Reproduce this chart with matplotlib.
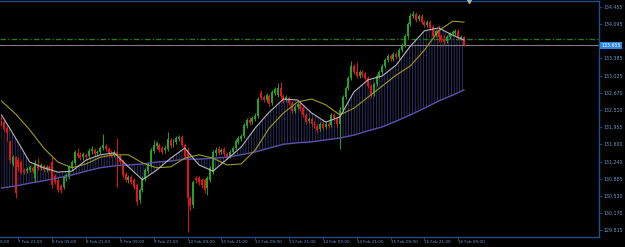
import numpy as np
import matplotlib
matplotlib.use("Agg")
from matplotlib import pyplot as plt
from matplotlib.transforms import blended_transform_factory

plt.rcParams['font.family'] = ['Liberation Sans Narrow', 'DejaVu Sans']

# hourly candles (7 Feb 09:00 -> 16 Feb 10:00)
opens = [
  132.15, 132.06, 131.94, 131.65, 131.19, 131.33, 131.27, 131.23, 131.06, 131.04,
  131.06, 131.11, 130.90, 131.19, 131.11, 131.15, 131.06, 131.13, 131.23, 130.94,
  130.86, 130.73, 130.71, 130.90, 130.92, 131.11, 131.21, 131.42, 131.38, 131.33,
  131.38, 131.36, 131.46, 131.48, 131.42, 131.44, 131.52, 131.56, 131.50, 131.42,
  131.38, 131.44, 131.36, 131.23, 130.98, 130.86, 130.92, 130.86, 130.75, 130.44,
  130.65, 130.88, 131.04, 131.17, 131.46, 131.56, 131.58, 131.52, 131.48, 131.50,
  131.69, 131.58, 131.65, 131.71, 131.75, 131.58, 131.48, 130.48, 130.34, 130.90,
  130.90, 130.86, 130.86, 130.69, 130.86, 131.02, 131.42, 131.50, 131.44, 131.50,
  131.40, 131.36, 131.44, 131.52, 131.65, 131.71, 131.77, 131.98, 132.10, 132.06,
  132.12, 132.19, 132.67, 132.58, 132.52, 132.60, 132.46, 132.67, 132.62, 132.77,
  132.60, 132.52, 132.56, 132.46, 132.29, 132.37, 132.44, 132.35, 132.21, 132.08,
  132.12, 132.04, 131.98, 131.92, 132.02, 131.96, 132.02, 132.00, 132.21, 132.15,
  132.02, 132.31, 132.58, 132.77, 132.98, 133.23, 133.10, 133.02, 133.10, 133.06,
  132.98, 132.81, 132.64, 132.85, 133.02, 133.10, 133.23, 133.35, 133.44, 133.37,
  133.48, 133.41, 133.56, 133.66, 133.85, 134.10, 134.27, 134.31, 134.20, 134.27,
  134.14, 134.08, 134.14, 134.04, 133.87, 133.98, 133.85, 133.79, 133.75, 133.83,
  133.89, 133.91, 133.96, 133.81, 133.83]
closes = [
  132.04, 131.92, 131.83, 131.27, 131.33, 130.59, 131.13, 131.02, 131.02, 131.08,
  131.13, 131.04, 131.21, 131.11, 131.17, 131.06, 131.13, 131.08, 130.75, 130.81,
  130.65, 130.65, 130.92, 130.96, 131.13, 131.23, 131.44, 131.36, 131.31, 131.40,
  131.33, 131.46, 131.50, 131.40, 131.44, 131.52, 131.58, 131.50, 131.42, 131.38,
  131.44, 131.36, 131.23, 130.96, 130.86, 130.92, 130.81, 130.71, 130.40, 130.65,
  130.90, 131.06, 131.17, 131.48, 131.58, 131.63, 131.48, 131.44, 131.52, 131.71,
  131.56, 131.67, 131.73, 131.75, 131.58, 131.36, 130.48, 130.32, 130.81, 130.86,
  130.81, 130.75, 130.65, 130.90, 131.11, 131.44, 131.48, 131.42, 131.48, 131.40,
  131.33, 131.44, 131.52, 131.67, 131.73, 131.77, 132.00, 132.10, 132.04, 132.15,
  132.19, 132.54, 132.56, 132.52, 132.62, 132.44, 132.69, 132.75, 132.77, 132.60,
  132.50, 132.58, 132.46, 132.29, 132.37, 132.44, 132.33, 132.21, 132.06, 132.12,
  132.02, 131.98, 131.90, 132.02, 131.94, 132.02, 131.98, 132.21, 132.15, 132.02,
  132.31, 132.58, 132.77, 132.98, 133.23, 133.10, 133.02, 133.10, 133.04, 132.98,
  132.81, 132.64, 132.85, 133.02, 133.10, 133.23, 133.35, 133.44, 133.37, 133.48,
  133.41, 133.56, 133.66, 133.85, 134.10, 134.27, 134.31, 134.18, 134.27, 134.14,
  134.08, 134.14, 134.02, 133.85, 133.96, 133.83, 133.77, 133.73, 133.83, 133.89,
  133.93, 133.96, 133.81, 133.83, 133.66]
highs = [
  132.19, 132.12, 131.98, 131.69, 131.38, 131.36, 131.33, 131.27, 131.11, 131.13,
  131.17, 131.15, 131.27, 131.31, 131.21, 131.19, 131.17, 131.17, 131.33, 130.98,
  130.92, 130.77, 130.96, 131.00, 131.17, 131.27, 131.48, 131.52, 131.44, 131.44,
  131.42, 131.52, 131.56, 131.52, 131.48, 131.56, 131.81, 131.60, 131.54, 131.48,
  131.48, 131.73, 131.40, 131.27, 131.02, 130.96, 130.96, 130.90, 130.79, 130.69,
  130.94, 131.11, 131.21, 131.52, 131.69, 131.67, 131.63, 131.56, 131.56, 131.85,
  131.73, 131.71, 131.77, 131.79, 131.79, 131.63, 131.54, 130.52, 130.86, 130.94,
  130.94, 130.90, 130.90, 130.94, 131.15, 131.48, 131.54, 131.56, 131.52, 131.54,
  131.44, 131.48, 131.56, 131.71, 131.77, 131.81, 132.04, 132.15, 132.17, 132.19,
  132.25, 132.58, 132.73, 132.62, 132.67, 132.64, 132.73, 132.79, 132.87, 132.89,
  132.64, 132.62, 132.60, 132.50, 132.42, 132.48, 132.48, 132.40, 132.25, 132.17,
  132.17, 132.08, 132.02, 132.06, 132.06, 132.06, 132.06, 132.25, 132.25, 132.19,
  132.37, 132.62, 132.81, 133.02, 133.33, 133.27, 133.31, 133.14, 133.14, 133.10,
  133.02, 132.85, 132.89, 133.06, 133.14, 133.27, 133.39, 133.48, 133.48, 133.52,
  133.52, 133.60, 133.71, 133.89, 134.14, 134.33, 134.37, 134.35, 134.31, 134.31,
  134.18, 134.18, 134.18, 134.08, 134.00, 134.08, 133.89, 133.87, 133.87, 133.93,
  133.98, 134.00, 134.00, 133.87, 133.85]
lows = [
  131.98, 131.88, 131.67, 131.21, 131.15, 130.48, 131.06, 130.98, 130.98, 131.00,
  131.02, 131.00, 130.81, 131.06, 131.06, 131.02, 131.02, 131.04, 130.69, 130.77,
  130.61, 130.59, 130.67, 130.84, 130.88, 131.06, 131.17, 131.31, 131.27, 131.27,
  131.29, 131.31, 131.40, 131.36, 131.36, 131.40, 131.48, 131.46, 131.38, 131.33,
  131.33, 130.71, 131.19, 130.90, 130.81, 130.79, 130.77, 130.67, 130.34, 130.38,
  130.61, 130.84, 131.00, 131.13, 131.42, 131.50, 131.44, 131.40, 131.42, 131.46,
  131.52, 131.54, 131.60, 131.67, 131.54, 131.31, 129.77, 130.23, 130.27, 130.79,
  130.75, 130.69, 130.59, 130.54, 130.81, 130.98, 131.36, 131.38, 131.40, 131.36,
  131.29, 131.31, 131.40, 131.48, 131.60, 131.67, 131.73, 131.94, 132.00, 132.02,
  132.08, 132.15, 132.52, 132.48, 132.48, 132.40, 132.42, 132.62, 132.58, 132.56,
  132.46, 132.48, 132.42, 132.25, 132.25, 132.33, 132.29, 132.17, 132.02, 132.04,
  131.98, 131.94, 131.85, 131.88, 131.90, 131.92, 131.94, 131.96, 132.10, 131.96,
  131.50, 132.27, 132.54, 132.73, 132.94, 133.06, 132.98, 132.98, 133.00, 132.94,
  132.77, 132.58, 132.60, 132.81, 132.98, 133.06, 133.19, 133.31, 133.33, 133.33,
  133.37, 133.37, 133.52, 133.62, 133.81, 134.06, 134.23, 134.14, 134.16, 134.10,
  134.04, 134.04, 133.98, 133.81, 133.83, 133.73, 133.73, 133.68, 133.71, 133.79,
  133.85, 133.87, 133.77, 133.77, 133.64]

# moving averages, read every 5th bar
ma_bars = [0, 5, 10, 15, 20, 25, 30, 35, 40, 45, 50, 55, 60, 65, 70, 75, 80,
           85, 90, 95, 100, 105, 110, 115, 120, 125, 130, 135, 140, 145, 150,
           155, 160, 164]
ma_fast = [132.21, 131.73, 131.23, 131.11, 131.02, 131.04, 131.27, 131.38,
           131.42, 131.13, 130.86, 131.06, 131.31, 131.52, 131.17, 131.04,
           131.29, 131.54, 131.94, 132.27, 132.54, 132.52, 132.25, 132.06,
           132.17, 132.69, 132.94, 133.02, 133.25, 133.64, 133.96, 134.02,
           133.87, 133.77]
ma_mid = [132.50, 132.23, 131.90, 131.52, 131.23, 131.11, 131.19, 131.33,
          131.38, 131.38, 131.21, 131.11, 131.13, 131.31, 131.38, 131.31,
          131.17, 131.19, 131.48, 131.94, 132.25, 132.48, 132.54, 132.42,
          132.21, 132.35, 132.58, 132.81, 133.04, 133.23, 133.56, 133.96,
          134.16, 134.14]
ma_slow = [130.69, 130.73, 130.79, 130.84, 130.90, 130.96, 131.04, 131.11,
           131.15, 131.17, 131.19, 131.23, 131.25, 131.29, 131.29, 131.31,
           131.33, 131.38, 131.44, 131.52, 131.60, 131.63, 131.65, 131.69,
           131.73, 131.79, 131.88, 131.96, 132.08, 132.21, 132.35, 132.50,
           132.62, 132.73]

time_bars = [-6, 6, 18, 30, 42, 54, 66, 78, 90, 102, 114, 126, 138, 150, 162]
time_labels = ["7 Feb 09:00", "7 Feb 21:00", "8 Feb 09:00", "8 Feb 21:00",
               "9 Feb 09:00", "9 Feb 21:00", "10 Feb 09:00", "10 Feb 21:00",
               "13 Feb 09:00", "13 Feb 21:00", "14 Feb 09:00", "14 Feb 21:00",
               "15 Feb 09:00", "15 Feb 21:00", "16 Feb 09:00"]
price_ticks = [134.455, 134.095, 133.385, 133.025, 132.670, 132.310, 131.955,
               131.600, 131.240, 130.885, 130.530, 130.170, 129.815]
bid = 133.655
level = 133.78

# colours
up_col = '#22a322'
dn_col = '#e41414'
axis_col = '#1b4f86'
text_col = '#6f98c8'
fs_y = 3.4
fs_x = 3.0

fig = plt.figure(figsize=(6.25, 2.47), dpi=100, facecolor='black')
ax = fig.add_axes([0, 10/247, 599/625, 236/247])
ax.set_facecolor('black')

o = np.array(opens)
c = np.array(closes)
x = np.arange(len(c))
cols = np.where(c >= o, up_col, dn_col)

# hatch between fast and slow MA
plt.rcParams['hatch.linewidth'] = 0.6
ax.fill_between(ma_bars, ma_fast, ma_slow, facecolor='none',
                edgecolor='#34346c', hatch='||||||', linewidth=0, zorder=1)

# candles
ax.vlines(x, lows, highs, colors=cols, linewidth=0.7, zorder=2)
ax.bar(x, np.abs(c - o), bottom=np.minimum(o, c), width=0.7, color=cols,
       linewidth=0, zorder=2)

# moving averages
ax.plot(ma_bars, ma_slow, color='#5a52a8', linewidth=1.0, zorder=3)
ax.plot(ma_bars, ma_mid, color='#9c9a22', linewidth=0.8, zorder=3)
ax.plot(ma_bars, ma_fast, color='#b4b4bc', linewidth=0.8, zorder=3)

# levels
ax.axhline(level, color='#1f7a1f', linewidth=1.0,
           linestyle=(0, (4, 1.5, 1, 1.5)), zorder=1)
ax.axhline(bid, color='#7c7c84', linewidth=0.8, zorder=1)

ax.set_xlim(-0.53, 211.9)
ax.set_ylim(129.67, 134.58)

# axes frame
ax.spines['left'].set_visible(False)
for s in ['top', 'right', 'bottom']:
  ax.spines[s].set_color(axis_col)
  ax.spines[s].set_linewidth(1.0)

# price axis
ax.yaxis.tick_right()
ax.set_yticks(price_ticks)
ax.set_yticklabels(['%.3f' % p for p in price_ticks])
ax.tick_params(axis='y', colors=axis_col, labelcolor=text_col, labelsize=fs_y,
               length=2, width=0.6, pad=1.5)

# current price box
ybox = blended_transform_factory(ax.transAxes, ax.transData)
ax.text(1.004, bid, '%.3f' % bid, transform=ybox, color='white', fontsize=fs_y,
        ha='left', va='center', zorder=5,
        bbox=dict(boxstyle='square,pad=0.25', fc='#2f86e0', ec='none'))

# time axis
ax.set_xticks(time_bars[1:])
ax.set_xticklabels([])
ax.tick_params(axis='x', colors=axis_col, length=2, width=0.6)
xbox = blended_transform_factory(ax.transData, ax.transAxes)
for b, lab in zip(time_bars, time_labels):
  ax.text(b, -0.014, lab, transform=xbox, color=text_col, fontsize=fs_x,
          ha='left', va='top', clip_on=False)

# chart shift marker
ax.plot([165.8], [134.58], marker='v', color='#b0b0b0', markersize=3,
        clip_on=False, zorder=6)

fig.savefig('out.png', dpi=100, facecolor='black')
